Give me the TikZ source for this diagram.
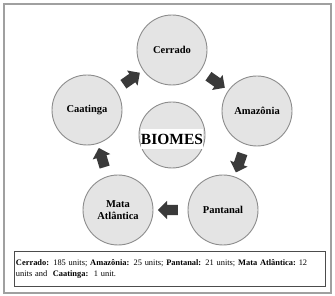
\documentclass[tikz,border=0pt]{standalone}
\usepackage{fontspec}
\setmainfont{Liberation Serif}
\usetikzlibrary{shapes.arrows,calc}
\definecolor{ringgray}{HTML}{8C8C8C}
\definecolor{discgray}{HTML}{E4E4E4}
\definecolor{arrowgray}{HTML}{3A3A3A}
\definecolor{framegray}{HTML}{A0A0A0}
\tikzset{
  biome/.style={circle,draw=ringgray,fill=discgray,line width=0.9pt,minimum size=70pt,inner sep=0pt,align=center,font=\fontsize{10.5}{12}\selectfont\bfseries},
  flow/.style={single arrow,fill=arrowgray,draw=none,minimum height=20pt,inner xsep=1pt,inner ysep=0pt,single arrow head extend=4pt,single arrow head indent=0pt}
}
\begin{document}
\begin{tikzpicture}[x=1pt,y=1pt]
  \useasboundingbox (0,0) rectangle (335,-296);
  \draw[line width=1.2pt,framegray] (4,-4) rectangle (331,-293);
  % biomes round the centre
  \node[biome] (cerrado) at (172,-50) {Cerrado};
  \node[biome] (amazonia) at (257,-111) {Amazônia};
  \node[biome] (pantanal) at (223,-210) {Pantanal};
  \node[biome] (mata) at (118,-210) {Mata\\Atlântica};
  \node[biome] (caatinga) at (87,-110) {Caatinga};
  \node[biome,minimum size=66pt] (biomes) at (172,-135) {};
  \node[fill=white,minimum width=61pt,minimum height=20pt,inner sep=0pt,font=\fontsize{15.5}{16}\selectfont\bfseries] (title) at (172,-139) {BIOMES};
  % block arrows
  \node[flow,rotate=35] (f1) at ($(caatinga)!0.5!(cerrado)$) {\rule{0pt}{10pt}};
  \node[flow,rotate=-35] (f2) at ($(cerrado)!0.5!(amazonia)$) {\rule{0pt}{10pt}};
  \node[flow,rotate=-109] (f3) at ($(amazonia)!0.5!(pantanal)$) {\rule{0pt}{10pt}};
  \node[flow,rotate=180] (f4) at ($(pantanal)!0.5!(mata)$) {\rule{0pt}{10pt}};
  \node[flow,rotate=107] (f5) at ($(mata)!0.5!(caatinga)$) {\rule{0pt}{10pt}};
  % counts
  \node[draw=black!70,line width=0.8pt,text width=307pt,inner xsep=2pt,minimum height=35pt,align=left,font=\fontsize{8.4}{11}\selectfont] (counts) at (169.5,-268.5)
    {\textbf{Cerrado:} 185 units;\ \textbf{Amazônia:} 25 units;\ \textbf{Pantanal:} 21 units; \textbf{Mata\ Atlântica:}~12\\
     units and\ \ \textbf{Caatinga:}\ \ 1 unit.};
\end{tikzpicture}
\end{document}
